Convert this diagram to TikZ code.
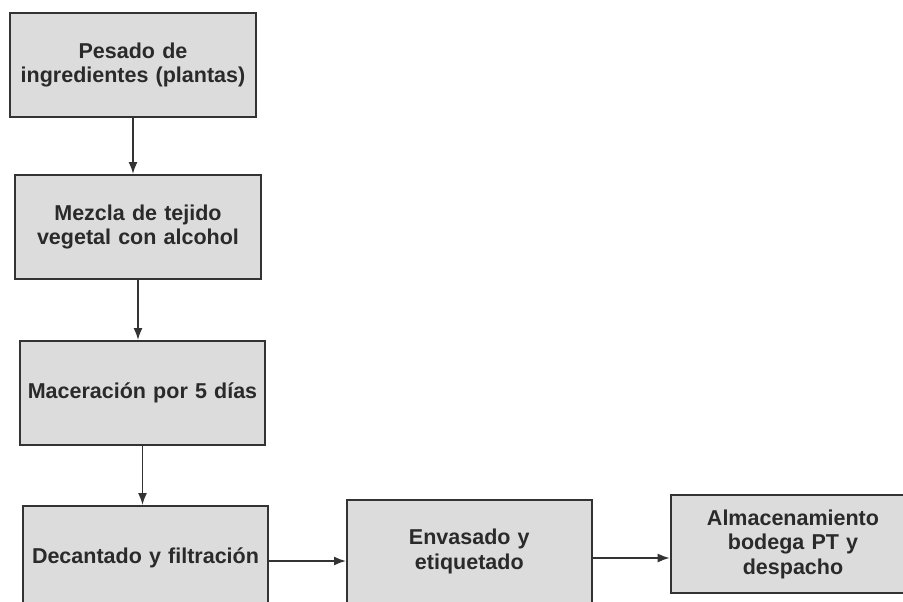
\documentclass[tikz,border=0pt]{standalone}
\usepackage{fontspec}
\setsansfont{Liberation Sans}
\usepackage{tikz}
\usetikzlibrary{positioning,arrows.meta}
\definecolor{boxfill}{HTML}{DCDCDC}
\definecolor{boxline}{HTML}{333333}
\definecolor{boxtext}{HTML}{2A2A2A}

\begin{document}
\begin{tikzpicture}[
    x=1pt, y=-1pt,
    paso/.style={draw=boxline, fill=boxfill, line width=2pt,
                 minimum width=246pt, minimum height=104pt,
                 text width=238pt, align=center, text=boxtext,
                 font=\sffamily\bfseries\fontsize{21.5}{24.5}\selectfont},
    flow/.style={-{Latex[length=12pt,width=9pt]}, line width=1.6pt,
                 color=boxline},
]
\useasboundingbox (0,0) rectangle (903,602);

% ── column of steps ──
\node[paso] (pesado) at (133,65) {Pesado de\\ingredientes (plantas)};
\node[paso, below=56pt of pesado, xshift=5pt] (mezcla)
    {Mezcla de tejido\\vegetal con alcohol};
\node[paso, below=60pt of mezcla, xshift=4.5pt, minimum width=245pt]
    (macera) {Maceración por 5 días};
\node[paso, below=59pt of macera, xshift=3pt, minimum width=245pt]
    (decanta) {Decantado y filtración};

% ── bottom row ──
\node[paso, right=77pt of decanta, yshift=6.5pt, minimum width=243pt,
      minimum height=103pt] (envasa) {Envasado y\\etiquetado};
\node[paso, right=77pt of envasa, yshift=7.5pt, minimum width=240pt,
      minimum height=98pt] (almacen)
    {Almacenamiento\\bodega PT y\\despacho};

% ── arrows ──
\draw[flow] (pesado.south) -- (pesado.south |- mezcla.north);
\draw[flow] (mezcla.south) -- (mezcla.south |- macera.north);
\draw[flow] (macera.south) -- (macera.south |- decanta.north);
\draw[flow] ([yshift=-3pt]decanta.east) -- ([yshift=-3pt]decanta.east -| envasa.west);
\draw[flow] ([yshift=-6.5pt]envasa.east) -- ([yshift=-6.5pt]envasa.east -| almacen.west);

\end{tikzpicture}
\end{document}
